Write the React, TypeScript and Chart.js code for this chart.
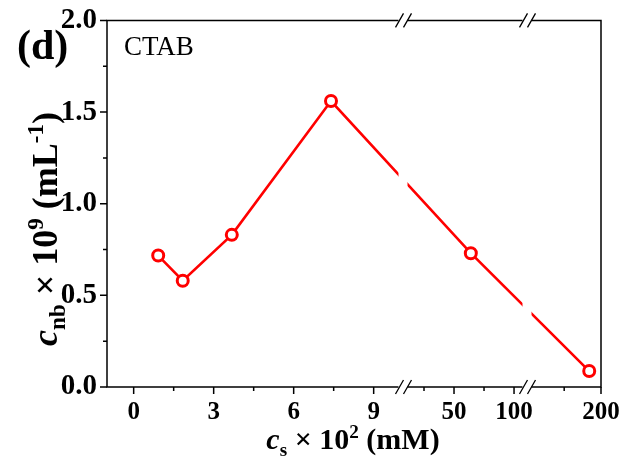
import React, { useEffect, useRef } from 'react';
import { Chart, registerables } from 'chart.js';
Chart.register(...registerables);

// ---- data ----
const cs = [0.92, 1.84, 3.68, 7.4, 64, 184];
const cnb = [0.717, 0.58, 0.83, 1.56, 0.73, 0.087];
const xMajorTicks = [0, 3, 6, 9, 50, 100, 200];
const xMinorTicks = [1.5, 4.5, 7.5, 25, 75, 150];
const yMajorTicks = [0, 0.5, 1.0, 1.5, 2.0];
const yMinorTicks = [0.25, 0.75, 1.25, 1.75];

// broken x axis: real range -> virtual axis range
const xSegments = [
  { from: -1, to: 10.1, start: 0, end: 296 },
  { from: 7.5, to: 110.8, start: 296, end: 420 },
  { from: 99.5, to: 200, start: 420, end: 494 },
];
const xBreaks = [296, 420];

function toVirtual(v: number): number {
  const seg = xSegments.find((s) => v <= s.to) ?? xSegments[xSegments.length - 1];
  return seg.start + ((v - seg.from) / (seg.to - seg.from)) * (seg.end - seg.start);
}

const SERIF = '"Liberation Serif", "Times New Roman", serif';

type Part = { t: string; italic?: boolean; sub?: boolean; sup?: boolean };

function drawRich(ctx: CanvasRenderingContext2D, parts: Part[], size: number, cx: number, baseline: number) {
  const font = (p: Part) => {
    const s = p.sub || p.sup ? size * 0.64 : size;
    return `${p.italic ? 'italic ' : ''}bold ${s}px ${SERIF}`;
  };
  let total = 0;
  const widths = parts.map((p) => {
    ctx.font = font(p);
    const w = ctx.measureText(p.t).width;
    total += w;
    return w;
  });
  let x = cx - total / 2;
  ctx.textAlign = 'left';
  ctx.textBaseline = 'alphabetic';
  parts.forEach((p, i) => {
    ctx.font = font(p);
    let y = baseline;
    if (p.sub) y += size * 0.22;
    if (p.sup) y -= size * 0.38;
    ctx.fillText(p.t, x, y);
    x += widths[i];
  });
}

const framePlugin = {
  id: 'frame',
  beforeDatasetsDraw(chart: any) {
    const { ctx, chartArea: a, scales } = chart;
    const xs = scales.x;
    const ys = scales.y;
    ctx.save();
    ctx.strokeStyle = '#000';
    ctx.lineWidth = 1.5;
    ctx.beginPath();
    ctx.rect(a.left, a.top, a.right - a.left, a.bottom - a.top);
    ctx.stroke();
    ctx.beginPath();
    yMajorTicks.forEach((v) => {
      const y = ys.getPixelForValue(v);
      ctx.moveTo(a.left - 7, y);
      ctx.lineTo(a.left, y);
    });
    yMinorTicks.forEach((v) => {
      const y = ys.getPixelForValue(v);
      ctx.moveTo(a.left - 4, y);
      ctx.lineTo(a.left, y);
    });
    xMajorTicks.forEach((v) => {
      const x = xs.getPixelForValue(toVirtual(v));
      ctx.moveTo(x, a.bottom);
      ctx.lineTo(x, a.bottom + 7);
    });
    xMinorTicks.forEach((v) => {
      const x = xs.getPixelForValue(toVirtual(v));
      ctx.moveTo(x, a.bottom);
      ctx.lineTo(x, a.bottom + 4);
    });
    ctx.stroke();
    ctx.restore();
  },
  afterDatasetsDraw(chart: any) {
    const { ctx, chartArea: a, scales } = chart;
    const xs = scales.x;
    ctx.save();
    xBreaks.forEach((b) => {
      const px = xs.getPixelForValue(b);
      ctx.fillStyle = '#fff';
      ctx.fillRect(px - 4.5, a.top - 2, 9, a.bottom - a.top + 4);
      ctx.strokeStyle = '#000';
      ctx.lineWidth = 1.3;
      [a.top, a.bottom].forEach((y) => {
        ctx.beginPath();
        ctx.moveTo(px - 7.5, y + 7);
        ctx.lineTo(px + 0.5, y - 7);
        ctx.moveTo(px + 0.5, y + 7);
        ctx.lineTo(px + 8.5, y - 7);
        ctx.stroke();
      });
    });
    ctx.restore();
  },
  afterDraw(chart: any) {
    const { ctx } = chart;
    ctx.save();
    ctx.fillStyle = '#000';
    // panel letter
    ctx.font = `bold 42px ${SERIF}`;
    ctx.textAlign = 'left';
    ctx.textBaseline = 'alphabetic';
    ctx.fillText('(d)', 17, 59);
    ctx.font = `27px ${SERIF}`;
    ctx.fillText('CTAB', 124, 55);
    // x title
    drawRich(
      ctx,
      [
        { t: 'c', italic: true },
        { t: 's', sub: true },
        { t: ' \u00d7 10' },
        { t: '2', sup: true },
        { t: ' (mM)' },
      ],
      30,
      353,
      449
    );
    // y title
    ctx.save();
    ctx.translate(57, 229);
    ctx.rotate(-Math.PI / 2);
    drawRich(
      ctx,
      [
        { t: 'c', italic: true },
        { t: 'nb', sub: true },
        { t: ' \u00d7 10' },
        { t: '9', sup: true },
        { t: ' (mL' },
        { t: '-1', sup: true },
        { t: ')' },
      ],
      36,
      0,
      0
    );
    ctx.restore();
    ctx.restore();
  },
};

export default function App() {
  const ref = useRef<HTMLCanvasElement>(null);
  useEffect(() => {
    document.body.style.margin = '0';
    const chart = new Chart(ref.current!, {
      type: 'line',
      data: {
        datasets: [
          {
            data: cs.map((x, i) => ({ x: toVirtual(x), y: cnb[i] })),
            borderColor: '#ff0000',
            borderWidth: 2.6,
            pointRadius: 5.5,
            pointBorderWidth: 3,
            pointBackgroundColor: '#ffffff',
            pointBorderColor: '#ff0000',
            tension: 0,
          },
        ],
      },
      options: {
        animation: false,
        responsive: false,
        layout: { padding: { top: 18, right: 30, left: 0, bottom: 0 } },
        plugins: { legend: { display: false }, tooltip: { enabled: false } },
        scales: {
          x: {
            type: 'linear',
            min: 0,
            max: 494,
            afterBuildTicks: (s: any) => {
              s.ticks = xMajorTicks.map((v) => ({ value: toVirtual(v) }));
            },
            afterFit: (s: any) => {
              s.height = 465 - 387;
            },
            ticks: {
              callback: (_v: any, i: number) => String(xMajorTicks[i]),
              autoSkip: false,
              maxRotation: 0,
              color: '#000',
              padding: 4,
              font: { family: SERIF, size: 25, weight: 'bold' },
            },
            grid: { display: false, drawTicks: true, tickLength: 7 },
            border: { display: false },
          },
          y: {
            type: 'linear',
            min: 0,
            max: 2,
            afterBuildTicks: (s: any) => {
              s.ticks = yMajorTicks.map((v) => ({ value: v }));
            },
            afterFit: (s: any) => {
              s.width = 107;
            },
            ticks: {
              callback: (v: any) => Number(v).toFixed(1),
              color: '#000',
              padding: 3,
              font: { family: SERIF, size: 29, weight: 'bold' },
            },
            grid: { display: false, drawTicks: true, tickLength: 7 },
            border: { display: false },
          },
        },
      },
      plugins: [framePlugin],
    } as any);
    return () => chart.destroy();
  }, []);
  return (
    <div style={{ position: 'absolute', left: 0, top: 0, width: 631, height: 465 }}>
      <canvas ref={ref} width={631} height={465} style={{ width: 631, height: 465 }} />
    </div>
  );
}
